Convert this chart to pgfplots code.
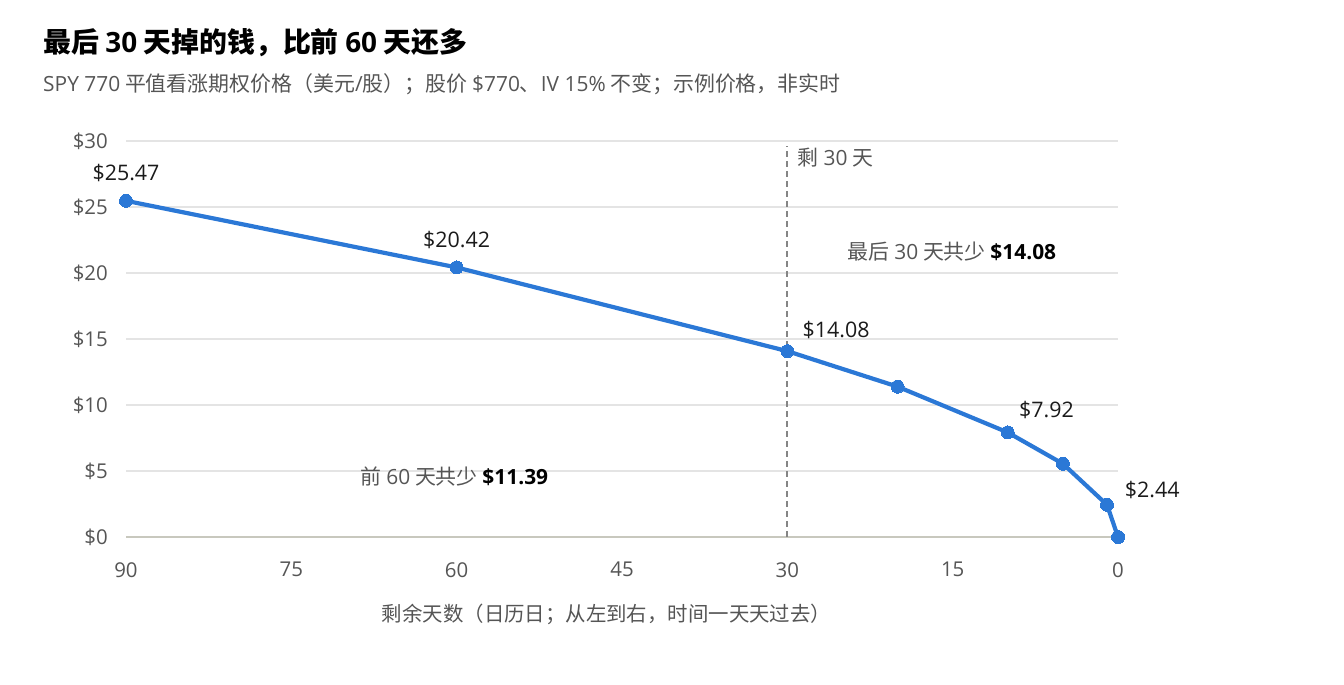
\documentclass[border=0pt]{standalone}
\usepackage{pgfplots}
\pgfplotsset{compat=1.18}
\usepackage{fontspec}
\setmainfont{Noto Sans CJK SC}
\newfontfamily\lat{Open Sans}
\definecolor{lineblue}{HTML}{2B78D6}
\definecolor{txtgray}{HTML}{555555}
\definecolor{gridc}{HTML}{E4E4E4}
\definecolor{zeroc}{HTML}{C8C8BE}
\definecolor{dashc}{HTML}{858585}
\definecolor{lblc}{HTML}{1A1A1A}
\begin{document}
\begin{tikzpicture}[x=1bp,y=1bp]
\path[use as bounding box] (0,0) rectangle (1344,684);
\node[anchor=west,inner sep=0pt,font=\fontsize{28}{28}\selectfont\bfseries,text=black] at (43,684-43) {最后 {\lat\bfseries 30} 天掉的钱，比前 {\lat\bfseries 60} 天还多};
\node[anchor=west,inner sep=0pt,font=\fontsize{21}{21}\selectfont,text=txtgray] at (43,684-84) {{\lat SPY 770} 平值看涨期权价格（美元{\lat /}股）；股价 {\lat \$770}、{\lat IV 15\%} 不变；示例价格，非实时};
\begin{axis}[
  at={(126bp,147bp)}, anchor=south west,
  width=992bp, height=396bp, scale only axis,
  xmin=0, xmax=90, x dir=reverse,
  ymin=0, ymax=30,
  clip=false,
  axis x line*=bottom, axis y line*=left,
  y axis line style={draw=none},
  x axis line style={draw=zeroc, line width=1.6bp, -},
  xtick={0,15,30,45,60,75,90},
  ytick={0,5,10,15,20,25,30},
  major tick length=0pt,
  ymajorgrids, grid style={draw=gridc, line width=1.1bp},
  /pgf/number format/assume math mode=true,
  yticklabel={\$\pgfmathprintnumber{\tick}},
  tick label style={font=\lat\fontsize{20.5}{20.5}\selectfont, text=txtgray, inner sep=0pt},
  yticklabel style={anchor=east, xshift=-18bp},
  xticklabel style={anchor=north, yshift=-25bp},
]
\draw[dashc, line width=1.7bp, dash pattern=on 6bp off 4bp] (axis cs:30,0) -- (axis cs:30,29.6);
\addplot[lineblue, line width=4.2bp, mark=*, mark size=6.5bp, mark options={fill=lineblue, draw=lineblue, line width=0pt}] coordinates {
(90,25.47) (60,20.42) (30,14.08) (20,11.39) (10,7.92) (5,5.55) (1,2.44) (0,0)
};
\node[font=\lat\fontsize{21.5}{21.5}\selectfont, text=lblc] at (axis cs:90,27.54) {\$25.47};
\node[font=\lat\fontsize{21.5}{21.5}\selectfont, text=lblc] at (axis cs:60,22.5) {\$20.42};
\node[font=\lat\fontsize{21.5}{21.5}\selectfont, text=lblc] at (axis cs:25.58,15.68) {\$14.08};
\node[font=\lat\fontsize{21.5}{21.5}\selectfont, text=lblc] at (axis cs:6.49,9.62) {\$7.92};
\node[font=\lat\fontsize{21.5}{21.5}\selectfont, text=lblc] at (axis cs:-3.1,3.56) {\$2.44};
\node[font=\fontsize{21}{21}\selectfont, text=txtgray] at (axis cs:25.63,28.71) {剩 {\lat 30} 天};
\node[font=\fontsize{21}{21}\selectfont, text=txtgray] at (axis cs:15.06,21.59) {最后 {\lat 30} 天共少 {\lat\bfseries\color{black}\$14.08}};
\node[font=\fontsize{21}{21}\selectfont, text=txtgray] at (axis cs:60.2,4.55) {前 {\lat 60} 天共少 {\lat\bfseries\color{black}\$11.39}};
\node[font=\fontsize{20.5}{20.5}\selectfont, text=txtgray] at (axis cs:46.4,-5.83) {剩余天数（日历日；从左到右，时间一天天过去）};
\end{axis}
\end{tikzpicture}
\end{document}
